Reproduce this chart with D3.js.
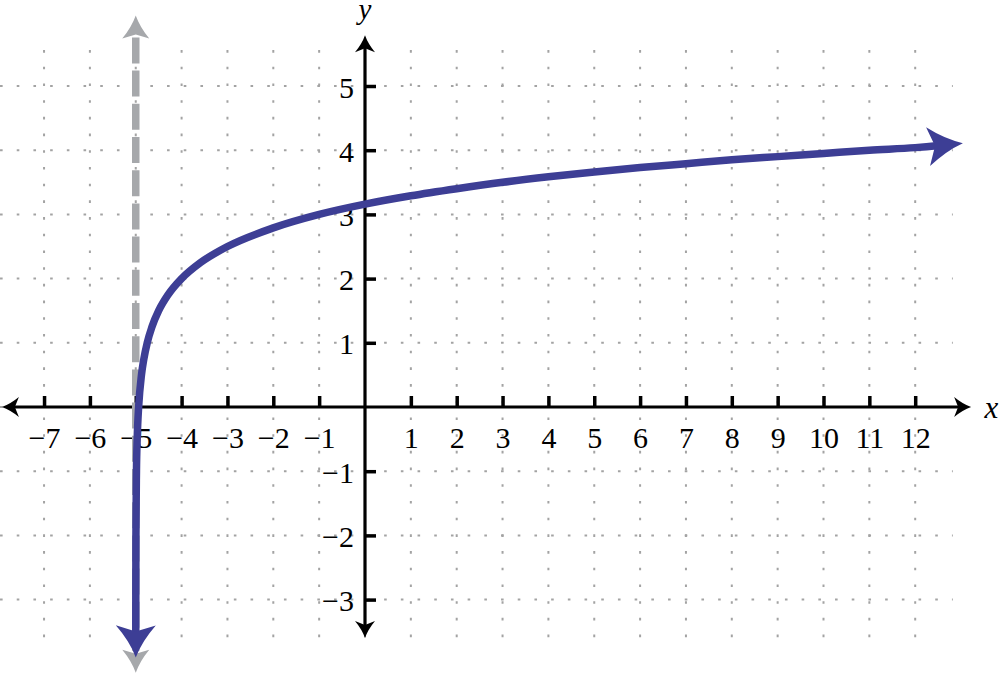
<!DOCTYPE html>
<html>
<head>
<meta charset="utf-8">
<script src="https://cdn.jsdelivr.net/npm/d3@7"></script>
<style>
  html, body { margin: 0; padding: 0; background: #fff; }
  svg { display: block; }
</style>
</head>
<body>
<svg id="chart" width="1000" height="674"></svg>
<script>
// ---- data ----
const xTicks = [-7, -6, -5, -4, -3, -2, -1, 1, 2, 3, 4, 5, 6, 7, 8, 9, 10, 11, 12];
const yTicks = [-3, -2, -1, 1, 2, 3, 4, 5];
const gridX = [-7, -6, -5, -4, -3, -2, -1, 0, 1, 2, 3, 4, 5, 6, 7, 8, 9, 10, 11, 12];
const gridY = [-3, -2, -1, 0, 1, 2, 3, 4, 5];
const curveX = [-4.9997, -4.999, -4.9961, -4.9844, -4.9688, -4.956, -4.9375, -4.875, -4.823, -4.75, -4.646, -4.5, -4.293, -4.0, -3.586, -3.0, -2.0, -1.0, 0, 1, 2, 3, 4, 5, 6, 7, 8, 9, 10, 11, 12, 13.04];
const curveY = [-3.9, -3.0, -2.0, -1.0, -0.5, -0.25, 0.0, 0.5, 0.75, 1.0, 1.25, 1.5, 1.75, 2.0, 2.25, 2.5, 2.79, 3.0, 3.16, 3.29, 3.40, 3.5, 3.585, 3.66, 3.73, 3.79, 3.85, 3.90, 3.95, 4.0, 4.04, 4.11];
const asymptoteX = -5;
const asymptoteY = [6.1, -4.14];
const xAxisExtent = [-7.92, 13.22];
const yAxisExtent = [-3.6, 5.79];
const gridXExtent = [-7.96, 12.82];
const gridYExtent = [-3.6, 5.56];

// ---- scales ----
const x = d3.scaleLinear().domain([-7, 12]).range([44.05, 915.2]);
const y = d3.scaleLinear().domain([-3, 5]).range([599.6, 86]);

const svg = d3.select("#chart");
const BLUE = "#3d3e95", GRAY = "#a6a8ab", GRID = "#a3a3a3";
const FONT = "'Liberation Serif', 'Times New Roman', serif";
const FS = 30;

function arrowHead(g, tx, ty, angleDeg, L, W, N, color) {
  const p = `M0,0 Q${-L*0.5},${-W*0.3} ${-L},${-W} L${-N},0 L${-L},${W} Q${-L*0.5},${W*0.3} 0,0 Z`;
  g.append("path").attr("d", p).attr("fill", color)
    .attr("transform", `translate(${tx},${ty}) rotate(${angleDeg})`);
}

// ---- grid ----
const grid = svg.append("g");
grid.selectAll("line.h").data(gridY).join("line")
  .attr("x1", x(gridXExtent[0])).attr("x2", x(gridXExtent[1]))
  .attr("y1", d => y(d)).attr("y2", d => y(d))
  .attr("stroke", GRID).attr("stroke-width", 2).attr("stroke-dasharray", "2.6 14.1");
grid.selectAll("line.v").data(gridX).join("line")
  .attr("y1", y(gridYExtent[1])).attr("y2", y(gridYExtent[0]))
  .attr("x1", d => x(d)).attr("x2", d => x(d))
  .attr("stroke", GRID).attr("stroke-width", 2).attr("stroke-dasharray", "2.6 14.1");

// ---- axes lines ----
const axes = svg.append("g");
axes.append("line")
  .attr("x1", x(xAxisExtent[0]) + 12).attr("x2", x(xAxisExtent[1]) - 12)
  .attr("y1", y(0)).attr("y2", y(0)).attr("stroke", "#000").attr("stroke-width", 3.2);
axes.append("line")
  .attr("x1", x(0)).attr("x2", x(0))
  .attr("y1", y(yAxisExtent[1]) + 12).attr("y2", y(yAxisExtent[0]) - 12)
  .attr("stroke", "#000").attr("stroke-width", 3.2);
arrowHead(axes, x(xAxisExtent[1]), y(0), 0, 17, 10, 13, "#000");
arrowHead(axes, x(xAxisExtent[0]), y(0), 180, 17, 10, 13, "#000");
arrowHead(axes, x(0), y(yAxisExtent[1]), -90, 17, 10, 13, "#000");
arrowHead(axes, x(0), y(yAxisExtent[0]), 90, 17, 10, 13, "#000");

// ---- ticks via d3 axes ----
const fmt = d => (d < 0 ? "\u2212" + Math.abs(d) : String(d));
const xAxisG = svg.append("g").attr("transform", `translate(0,${y(0)})`)
  .call(d3.axisBottom(x).tickValues(xTicks).tickFormat(fmt).tickSizeInner(-11).tickSizeOuter(0));
xAxisG.attr("font-family", FONT).attr("font-size", FS);
xAxisG.select(".domain").remove();
xAxisG.selectAll(".tick line").attr("stroke", "#000").attr("stroke-width", 3.5);
xAxisG.selectAll(".tick text").attr("y", 41).attr("dy", null)
  .style("font-family", FONT).style("font-size", FS + "px").attr("fill", "#000");

const yAxisG = svg.append("g").attr("transform", `translate(${x(0)},0)`)
  .call(d3.axisLeft(y).tickValues(yTicks).tickFormat(fmt).tickSizeInner(-11).tickSizeOuter(0));
yAxisG.attr("font-family", FONT).attr("font-size", FS);
yAxisG.select(".domain").remove();
yAxisG.selectAll(".tick line").attr("stroke", "#000").attr("stroke-width", 3.5);
yAxisG.selectAll(".tick text").attr("x", -11).attr("dy", 11).attr("text-anchor", "end")
  .style("font-family", FONT).style("font-size", FS + "px").attr("fill", "#000");

// axis titles
svg.append("text").attr("x", x(13.66)).attr("y", y(0) + 11).attr("text-anchor", "middle")
  .style("font-family", FONT).style("font-style", "italic").style("font-size", "31px").text("x");
svg.append("text").attr("x", x(0)).attr("y", 19).attr("text-anchor", "middle")
  .style("font-family", FONT).style("font-style", "italic").style("font-size", "29px").text("y");

// ---- asymptote ----
const asy = svg.append("g");
asy.append("line")
  .attr("x1", x(asymptoteX)).attr("x2", x(asymptoteX))
  .attr("y1", y(asymptoteY[0]) + 22).attr("y2", y(asymptoteY[1]) - 22)
  .attr("stroke", GRAY).attr("stroke-width", 7.5).attr("stroke-dasharray", "26 7.2");
arrowHead(asy, x(asymptoteX), y(asymptoteY[0]), -90, 23, 13.5, 19, GRAY);
arrowHead(asy, x(asymptoteX), y(asymptoteY[1]), 90, 23, 13.5, 19, GRAY);

// ---- curve ----
const pts = curveX.map((d, i) => [d, curveY[i]]);
const line = d3.line().x(d => x(d[0])).y(d => y(d[1])).curve(d3.curveMonotoneX);
const cg = svg.append("g");
const path = cg.append("path").attr("d", line(pts))
  .attr("fill", "none").attr("stroke", BLUE).attr("stroke-width", 7.5);
const len = path.node().getTotalLength();
const cut = 24;
path.attr("stroke-dasharray", `0 ${cut} ${len - 2 * cut} ${len}`);
const p0 = path.node().getPointAtLength(0), p0b = path.node().getPointAtLength(20);
const p1 = path.node().getPointAtLength(len), p1b = path.node().getPointAtLength(len - 20);
const a0 = Math.atan2(p0.y - p0b.y, p0.x - p0b.x) * 180 / Math.PI;
const a1 = Math.atan2(p1.y - p1b.y, p1.x - p1b.x) * 180 / Math.PI;
arrowHead(cg, p0.x, p0.y, a0, 32, 20, 26, BLUE);
arrowHead(cg, p1.x, p1.y, a1, 35, 19.5, 28, BLUE);
</script>
</body>
</html>
